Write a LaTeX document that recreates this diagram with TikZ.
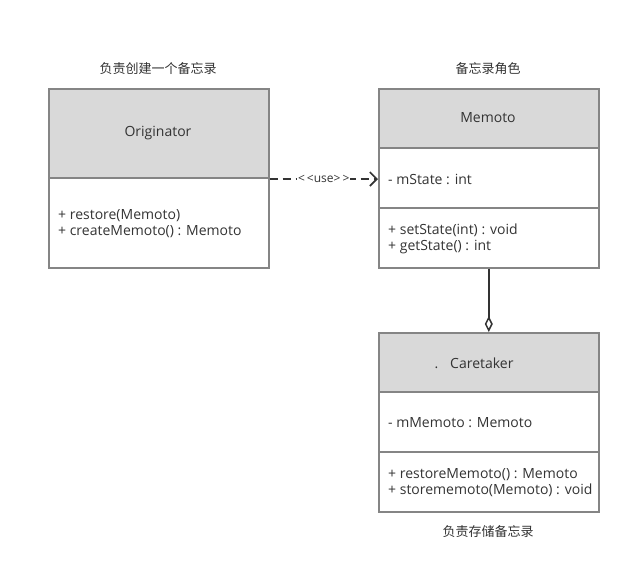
\documentclass[tikz,border=0pt]{standalone}
\usepackage{fontspec}
\setmainfont{Open Sans}
\newfontfamily\cjk{Noto Sans CJK SC}
\usetikzlibrary{arrows.meta}
\definecolor{bordc}{HTML}{858585}
\definecolor{headc}{HTML}{D9D9D9}
\definecolor{txtc}{HTML}{333333}
\begin{document}
\begin{tikzpicture}[x=1pt,y=-1pt,
  box/.style={draw=bordc,line width=1.5pt,rectangle,minimum width=220pt,anchor=north west,inner sep=0pt},
  head/.style={fill=headc,rectangle,minimum width=220pt,anchor=north west,inner sep=0pt},
  sep/.style={draw=bordc,line width=1.2pt},
  lbl/.style={text=txtc,font=\fontsize{14}{16}\selectfont,inner sep=0pt},
  mem/.style={text=txtc,font=\fontsize{14}{16}\selectfont,inner sep=0pt,anchor=west,align=left},
  captxt/.style={text=txtc,font=\cjk\fontsize{13}{15}\selectfont,inner sep=0pt}]
\useasboundingbox (0,0) rectangle (630,584);
% Originator
\node[head,minimum height=90pt] (oh) at (48,88) {};
\node[box,minimum height=179pt] (orig) at (48,88) {};
\draw[sep] (48,178) -- (268,178);
\node[lbl] (on) at (158,133) {Originator};
\node[mem] (om) at (58,224) {+ restore(Memoto)\\+ createMemoto() : Memoto};
\node[captxt] (oc) at (158,69) {负责创建一个备忘录};
% Memoto
\node[head,minimum height=60pt] (mh) at (378,88) {};
\node[box,minimum height=179pt] (memo) at (378,88) {};
\draw[sep] (378,148) -- (598,148);
\draw[sep] (378,208) -- (598,208);
\node[lbl] (mn) at (488,118) {Memoto};
\node[mem] (ma) at (388,179) {- mState : int};
\node[mem] (mm) at (388,239) {+ setState(int) : void\\+ getState() : int};
\node[captxt] (mc) at (488,69) {备忘录角色};
% Caretaker
\node[head,minimum height=60pt] (ch) at (378,332) {};
\node[box,minimum height=179pt] (care) at (378,332) {};
\draw[sep] (378,392) -- (598,392);
\draw[sep] (378,452) -- (598,452);
\node[lbl] (cn) at (474,363) {.\hspace{12pt}Caretaker};
\node[mem] (ca) at (388,423) {- mMemoto : Memoto};
\node[mem] (cm) at (388,483) {+ restoreMemoto() : Memoto\\+ storememoto(Memoto) : void};
\node[captxt] (cc) at (488,532) {负责存储备忘录};
% connectors
\draw[txtc,line width=2pt,dash pattern=on 8pt off 5pt,-{Straight Barb[length=7pt,width=14pt,line width=1.6pt]}]
  (orig.east|-0,179) -- node[fill=white,inner sep=1pt,text=txtc,font=\fontsize{12}{13}\selectfont]{<\hspace{2pt}<use>\hspace{2pt}>} (memo.west|-0,179);
\draw[txtc,line width=2pt,-{Diamond[open,length=16pt,width=8pt,line width=1.5pt]}] (memo.south) -- (care.north);
\end{tikzpicture}
\end{document}
